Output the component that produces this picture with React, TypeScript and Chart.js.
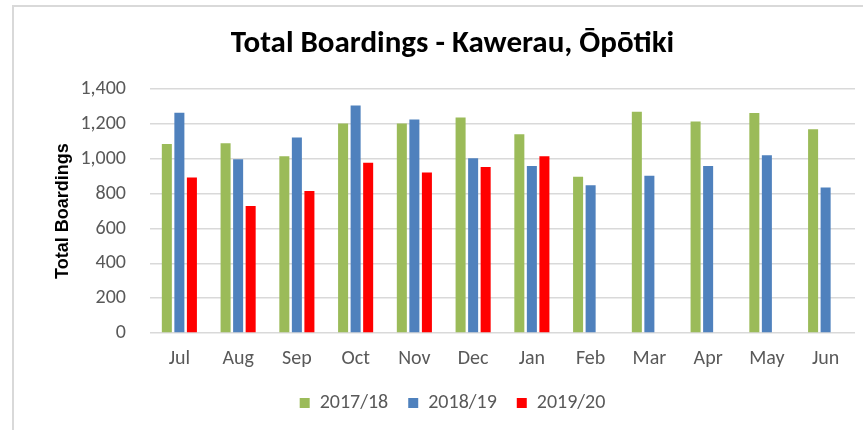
import React, { useEffect, useRef } from "react";
import { Chart, registerables } from "chart.js";

Chart.register(...registerables);

const months = ["Jul", "Aug", "Sep", "Oct", "Nov", "Dec", "Jan", "Feb", "Mar", "Apr", "May", "Jun"];
const s2017_18 = [1085, 1090, 1015, 1203, 1203, 1238, 1141, 897, 1270, 1214, 1263, 1170];
const s2018_19 = [1265, 998, 1122, 1307, 1226, 1003, 959, 849, 903, 959, 1021, 835];
const s2019_20: (number | null)[] = [893, 730, 816, 978, 922, 953, 1015, null, null, null, null, null];
const seriesNames = ["2017/18", "2018/19", "2019/20"];
const seriesColors = ["#9BBB59", "#4F81BD", "#FF0000"];

const FONT = "Carlito, Calibri, 'Open Sans', sans-serif";

export default function App() {
  const ref = useRef<HTMLCanvasElement | null>(null);
  useEffect(() => {
    if (!ref.current) return;
    const chart = new Chart(ref.current, {
      type: "bar",
      data: {
        labels: months,
        datasets: [s2017_18, s2018_19, s2019_20].map((d, i) => ({
          label: seriesNames[i],
          data: d,
          backgroundColor: seriesColors[i],
          borderWidth: 0,
          categoryPercentage: 0.64,
          barPercentage: 0.8,
        })),
      },
      options: {
        responsive: false,
        animation: false,
        layout: { padding: { left: 50, right: 8, top: 20, bottom: 7 } },
        plugins: {
          title: {
            display: true,
            text: "Total Boardings - Kawerau, Ōpōtiki",
            color: "#000000",
            font: { family: FONT, size: 31, weight: "bold" },
            padding: { top: 6, bottom: 26 },
          },
          legend: {
            position: "bottom",
            labels: {
              boxWidth: 10,
              boxHeight: 10,
              padding: 20,
              color: "#595959",
              font: { family: FONT, size: 20 },
            },
          },
          tooltip: { enabled: false },
        },
        scales: {
          x: {
            grid: { display: false, drawTicks: false },
            border: { display: false },
            ticks: { color: "#595959", font: { family: FONT, size: 20 }, padding: 14 },
            afterFit: (s: any) => { s.height = 40; },
          },
          y: {
            min: 0,
            max: 1400,
            ticks: {
              stepSize: 200,
              color: "#595959",
              padding: 24,
              font: { family: FONT, size: 20 },
              callback: (v: any) => Number(v).toLocaleString("en-US"),
            },
            grid: { color: "#D9D9D9", lineWidth: 1.5, drawTicks: false },
            border: { display: false },
            title: {
              display: true,
              text: "Total Boardings",
              color: "#000000",
              font: { family: "'Liberation Sans', Arial, sans-serif", size: 18, weight: "bold" },
              padding: { top: 2, bottom: 2 },
            },
            afterFit: (s: any) => { s.width = 100; },
          },
        },
      },
    });
    return () => chart.destroy();
  }, []);
  return (
    <div style={{ position: "absolute", left: 0, top: 0, width: 863, height: 430, background: "#fff" }}>
      <div style={{ position: "absolute", left: 12, top: 5, width: 851, height: 425, borderTop: "2px solid #D9D9D9", borderLeft: "2px solid #D9D9D9", boxSizing: "border-box" }} />
      <canvas ref={ref} width={863} height={430} style={{ position: "absolute", left: 0, top: 0 }} />
    </div>
  );
}
